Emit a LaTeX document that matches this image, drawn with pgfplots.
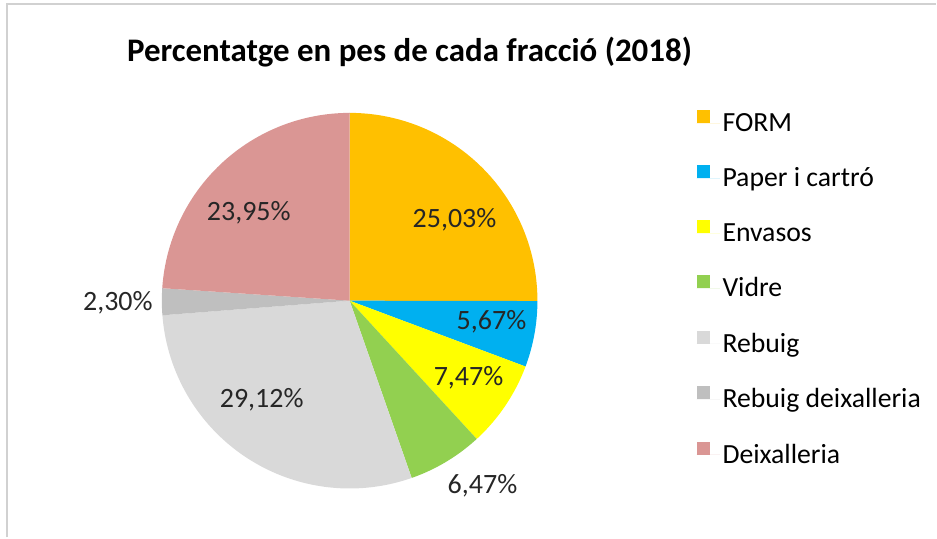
\documentclass[border=0pt]{standalone}
\usepackage{pgfplots}
\pgfplotsset{compat=1.18}
\usepackage{pgfplotstable}
\usepackage{fontspec}
\setmainfont{Carlito}

\definecolor{cForm}{HTML}{FFC000}
\definecolor{cPaper}{HTML}{00B0F0}
\definecolor{cEnv}{HTML}{FFFF00}
\definecolor{cVidre}{HTML}{92D050}
\definecolor{cRebuig}{HTML}{D9D9D9}
\definecolor{cRebDeix}{HTML}{BFBFBF}
\definecolor{cDeix}{HTML}{DA9694}

% percentages, slice colour and label position (in pixels of the 937x538 frame)
\pgfplotstableread[col sep=comma]{
name,value,color,lx,ly
FORM,25.03,cForm,455,220
Paper i cartró,5.67,cPaper,492,322
Envasos,7.47,cEnv,469,378
Vidre,6.47,cVidre,483,486
Rebuig,29.12,cRebuig,262,400
Rebuig deixalleria,2.30,cRebDeix,118,303
Deixalleria,23.95,cDeix,249,213
}\piedata

\newcommand\lab{\fontsize{21}{25}\selectfont}
\newcommand\leg{\fontsize{20.8}{24}\selectfont}

% cumulative angles, clockwise from 12 o'clock
\def\cum{0}
\pgfplotsforeachungrouped \ii in {0,...,6}{%
  \pgfplotstablegetelem{\ii}{value}\of\piedata \let\v\pgfplotsretval
  \pgfmathsetmacro\a{90-3.6*\cum}%
  \pgfmathsetmacro\cum{\cum+\v}%
  \pgfmathsetmacro\b{90-3.6*\cum}%
  \expandafter\xdef\csname sA\ii\endcsname{\b}%
  \expandafter\xdef\csname sB\ii\endcsname{\a}%
  \pgfmathprintnumberto[fixed,fixed zerofill,precision=2,use comma,assume math mode=true]{\v}{\lbl}%
  \expandafter\xdef\csname sL\ii\endcsname{\lbl\%}%
  \pgfplotstablegetelem{\ii}{color}\of\piedata \colorlet{sc\ii}{\pgfplotsretval}%
  \pgfplotstablegetelem{\ii}{name}\of\piedata \expandafter\xdef\csname sN\ii\endcsname{\pgfplotsretval}%
  \pgfplotstablegetelem{\ii}{lx}\of\piedata \expandafter\xdef\csname sX\ii\endcsname{\pgfplotsretval}%
  \pgfplotstablegetelem{\ii}{ly}\of\piedata \expandafter\xdef\csname sY\ii\endcsname{\pgfplotsretval}%
}

\begin{document}
\begin{tikzpicture}
\begin{axis}[
  scale only axis, width=702.75pt, height=403.5pt,
  xmin=0, xmax=937, ymin=0, ymax=538, y dir=reverse,
  hide axis, clip=false,
  legend cell align=left,
  legend style={draw=none, fill=none, font=\leg, at={(axis cs:697,110)},
    anchor=north west, row sep=21.8pt, inner sep=0pt},
  legend image code/.code={\path[#1] (0pt,0pt) rectangle (9.75pt,9.75pt);
    \path (0pt,0pt) -- (17.5pt,0pt);},
]
\path (0,0) rectangle (937,538);
\draw[black!18, line width=1.5pt] (7,538) -- (7,4) -- (937,4);
\pgfplotsinvokeforeach{0,...,6}{
  \edef\temp{\noexpand\addplot[draw=none, fill=sc#1,
      domain=\csname sA#1\endcsname:\csname sB#1\endcsname, samples=90, variable=\noexpand\t]
    ({350+188*cos(\noexpand\t)}, {301-188*sin(\noexpand\t)}) -- (350,301) -- cycle;}
  \temp
  \addlegendentryexpanded{\csname sN#1\endcsname}
}
\pgfplotsinvokeforeach{0,...,6}{
  \edef\temp{\noexpand\node[font=\noexpand\lab, text=black!85] at (\csname sX#1\endcsname,\csname sY#1\endcsname) {\csname sL#1\endcsname};}
  \temp
}
\node[font=\bfseries\fontsize{24.7}{29}\selectfont] at (410,52) {Percentatge en pes de cada fracció (2018)};
\end{axis}
\end{tikzpicture}
\end{document}
